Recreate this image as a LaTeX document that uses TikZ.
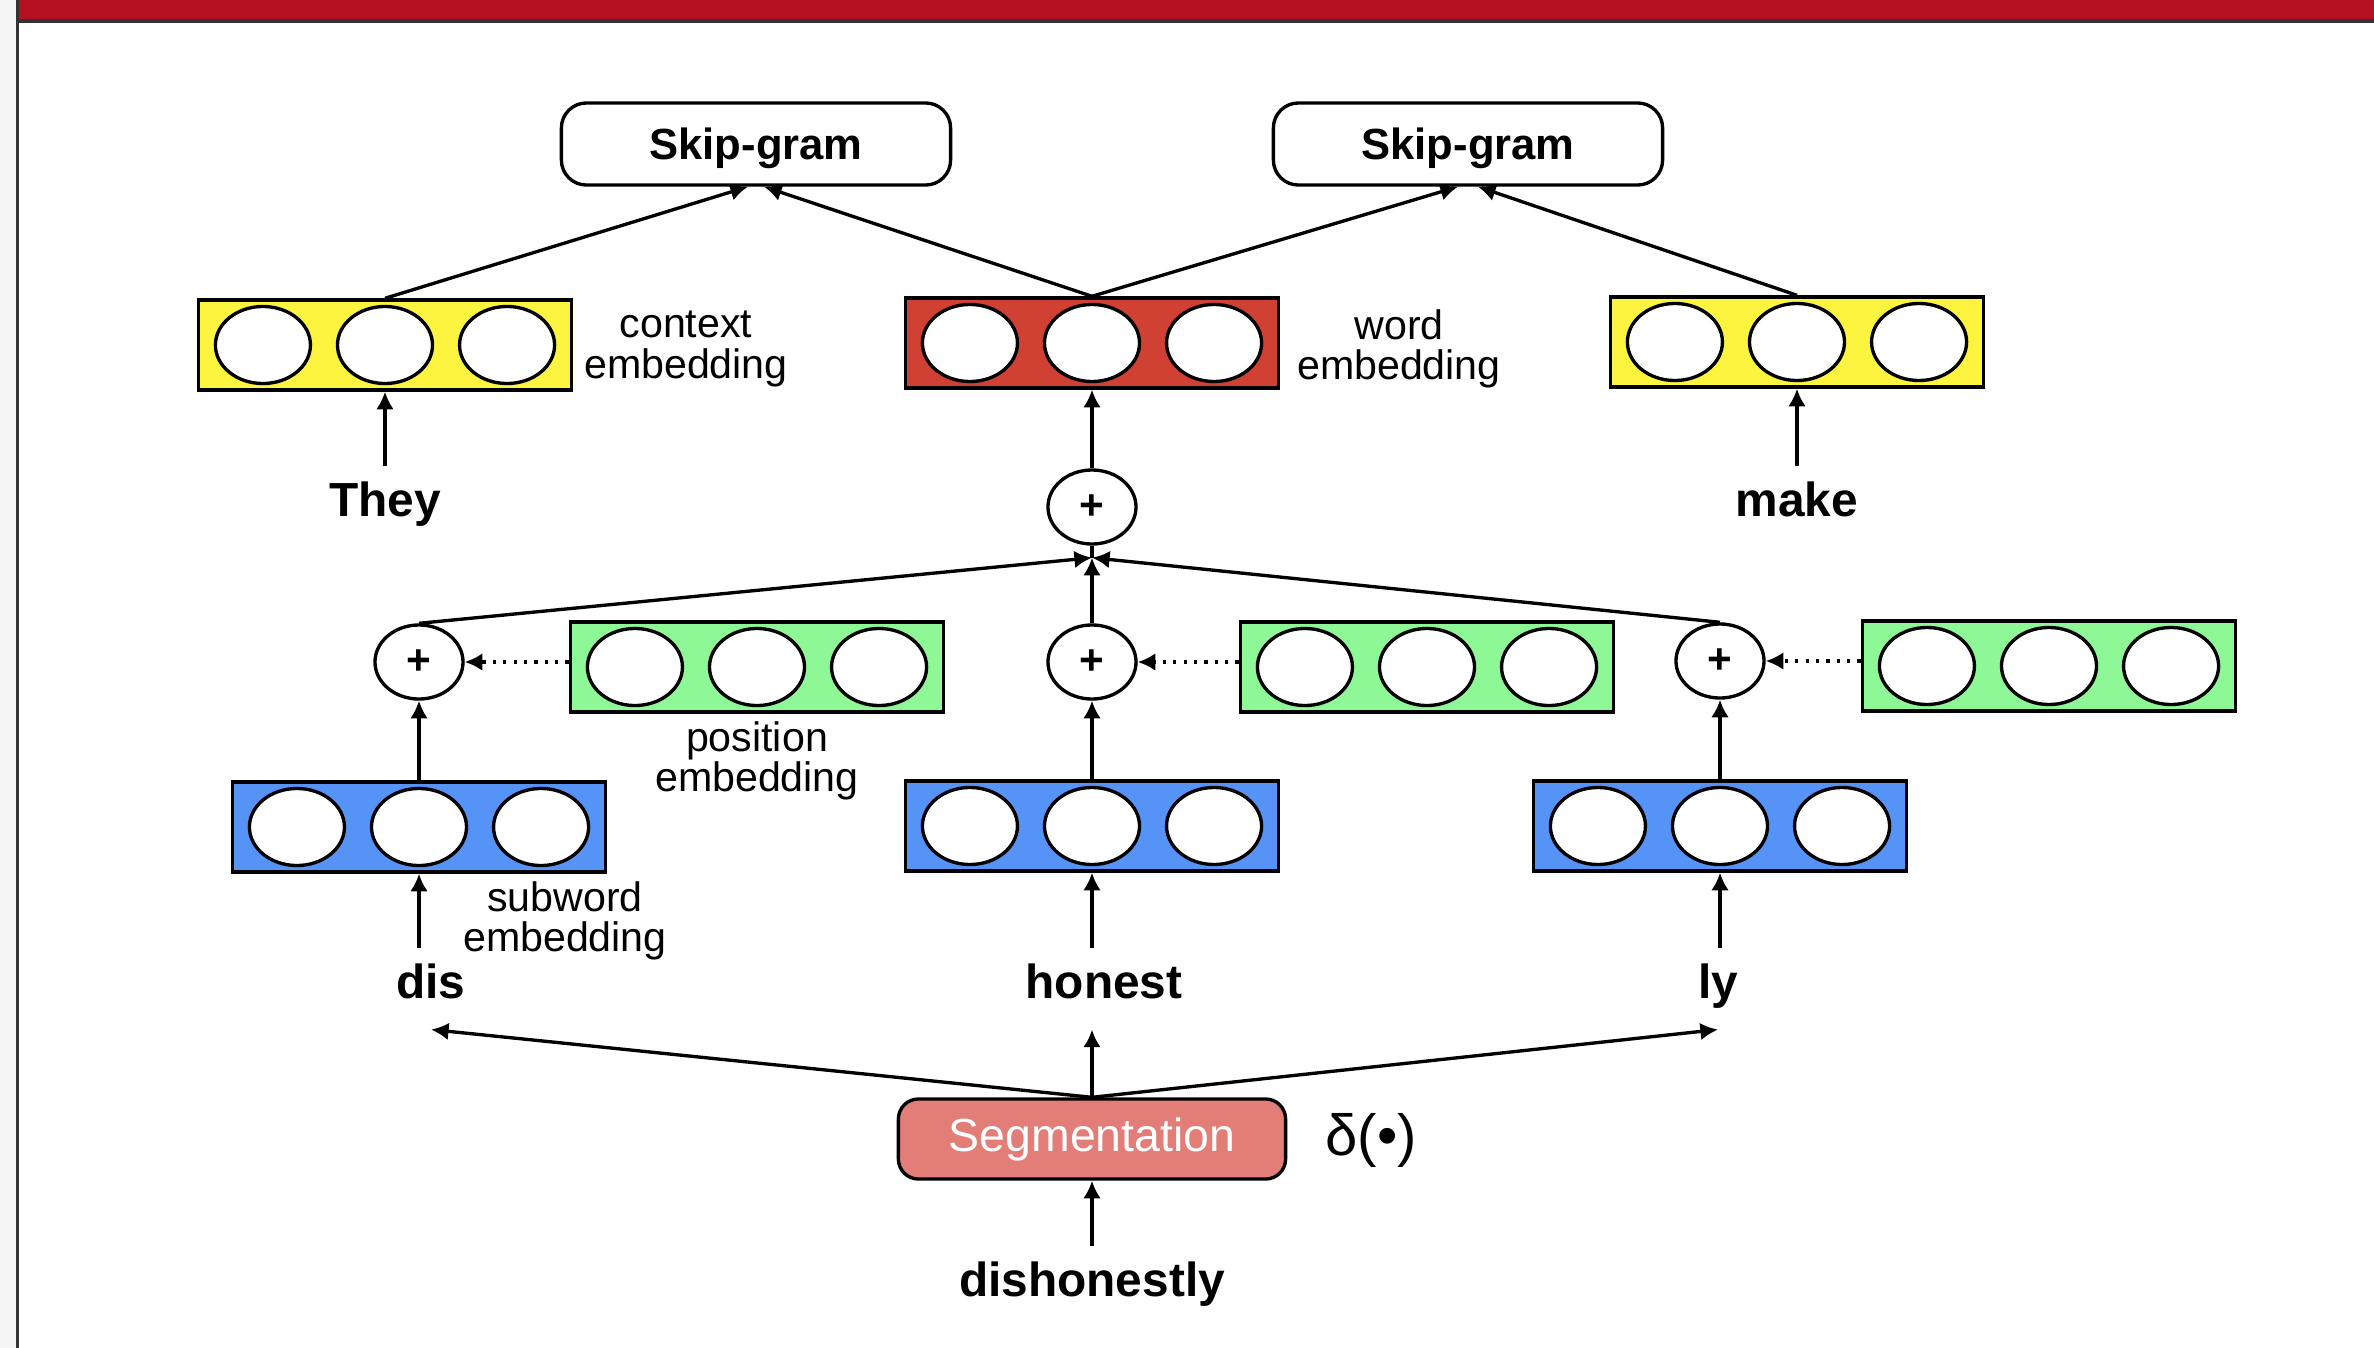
\documentclass[tikz,border=0pt]{standalone}
\usepackage{fontspec}
\setmainfont{Liberation Sans}
\usetikzlibrary{shapes.geometric,arrows.meta}
\definecolor{bandred}{HTML}{B51021}
\definecolor{ctxyellow}{HTML}{FCF43E}
\definecolor{wordred}{HTML}{D04033}
\definecolor{posgreen}{HTML}{8EF796}
\definecolor{subblue}{HTML}{5593F7}
\definecolor{segred}{HTML}{E27D78}
\begin{document}
\begin{tikzpicture}
	[x=0.01cm,y=-0.01cm,line width=0.95pt,>={Latex[length=5pt,width=5pt]},
	vec/.style={rectangle,draw,minimum width=3.73cm,minimum height=0.9cm,inner sep=0pt},
	cell/.style={ellipse,draw,fill=white,minimum width=0.95cm,minimum height=0.77cm,inner sep=0pt},
	plus/.style={ellipse,draw,fill=white,minimum width=0.88cm,minimum height=0.74cm,inner sep=0pt,font=\fontsize{12}{12}\selectfont\bfseries},
	model/.style={rectangle,draw,rounded corners=0.25cm,minimum width=3.89cm,minimum height=0.82cm,text depth=0pt,font=\fontsize{12.4}{12.4}\selectfont\bfseries},
	word/.style={anchor=base,inner sep=6.5pt,text height=0.72em,text depth=0.2em,font=\fontsize{13.6}{13.6}\selectfont\bfseries},
	note/.style={align=center,font=\fontsize{11.7}{11.4}\selectfont}]
	\useasboundingbox (0,0) rectangle (2374,1348);
	% slide frame
	\fill[black!4] (0,0) rectangle (17,1348);
	\fill[black!80] (16,0) rectangle (19,1348);
	\fill[bandred] (19,0) rectangle (2374,19);
	\fill[black!80] (19,19) rectangle (2374,23);
	% skip-gram
	\node[model,name=skipL] at (756,144) {Skip-gram};
	\node[model,name=skipR] at (1468,144) {Skip-gram};
	% vectors
	\node[vec,fill=ctxyellow,name=ctxL] at (385,345) {};
	\node[vec,fill=wordred,name=wordC] at (1092,343) {};
	\node[vec,fill=ctxyellow,name=ctxR] at (1797,342) {};
	\node[vec,fill=posgreen,name=posA] at (757,667) {};
	\node[vec,fill=posgreen,name=posB] at (1427,667) {};
	\node[vec,fill=posgreen,name=posC] at (2049,666) {};
	\node[vec,fill=subblue,name=subA] at (419,827) {};
	\node[vec,fill=subblue,name=subB] at (1092,826) {};
	\node[vec,fill=subblue,name=subC] at (1720,826) {};
	\foreach \v in {ctxL,wordC,ctxR,posA,posB,posC,subA,subB,subC}
		\foreach \d in {-1,0,1}
			\node[cell,name=\v c\d] at ([xshift=\d*1.22cm]\v.center) {};
	\node[note,name=ctxlab] at (686,349) {context\\embedding};
	\node[note,name=wordlab] at (1399,349) {word\\embedding};
	\node[note,name=poslab] at (757,761) {position\\embedding};
	\node[note,name=sublab] at (565,921) {subword\\embedding};
	% sums
	\node[plus,name=topplus] at (1092,507) {+};
	\node[plus,name=plusA] at (419,662) {+};
	\node[plus,name=plusB] at (1092,662) {+};
	\node[plus,name=plusC] at (1720,661) {+};
	\coordinate (merge) at ([yshift=-0.12cm]topplus.south);
	% words
	\node[word,name=they] at (385,516) {They};
	\node[word,name=make] at (1797,516) {make};
	\node[word,name=dis] at (431,998) {dis};
	\node[word,name=honest] at (1104,998) {honest};
	\node[word,name=ly] at (1718,998) {ly};
	\node[word,name=whole] at (1092,1296) {dishonestly};
	\node[rectangle,draw,fill=segred,rounded corners=0.2cm,minimum width=3.87cm,minimum height=0.8cm,text=white,font=\fontsize{13.2}{13.2}\selectfont,name=seg] at (1092,1139) {Segmentation};
	\node[font=\fontsize{16.5}{16.5}\selectfont,name=delta] at (1371,1140) {δ(•)};
	% arrows
	\draw[->] (whole.north) -- (seg.south);
	\draw[->] (seg.north) -- (dis.south);
	\draw[->] (seg.north) -- (seg.north |- honest.south);
	\draw[->] (seg.north) -- (ly.south);
	\draw[->] (subA.south |- dis.north) -- (subA.south);
	\draw[->] (subB.south |- honest.north) -- (subB.south);
	\draw[->] (subC.south |- ly.north) -- (subC.south);
	\draw[->] (subA.north) -- (plusA.south);
	\draw[->] (subB.north) -- (plusB.south);
	\draw[->] (subC.north) -- (plusC.south);
	\draw[->,dotted] (plusA.east -| posA.west) -- (plusA.east);
	\draw[->,dotted] (plusB.east -| posB.west) -- (plusB.east);
	\draw[->,dotted] (plusC.east -| posC.west) -- (plusC.east);
	\draw[->] (plusA.north) -- (merge);
	\draw[->] (plusB.north) -- (merge);
	\draw[->] (plusC.north) -- (merge);
	\draw (merge) -- (topplus.south);
	\draw[->] (topplus.north) -- (wordC.south);
	\draw[->] (they.north) -- (ctxL.south);
	\draw[->] (make.north) -- (ctxR.south);
	\draw[->] (ctxL.north) -- ([xshift=-0.08cm]skipL.south);
	\draw[->] (wordC.north) -- ([xshift=0.08cm]skipL.south);
	\draw[->] (wordC.north) -- ([xshift=-0.1cm]skipR.south);
	\draw[->] (ctxR.north) -- ([xshift=0.1cm]skipR.south);
\end{tikzpicture}
\end{document}
